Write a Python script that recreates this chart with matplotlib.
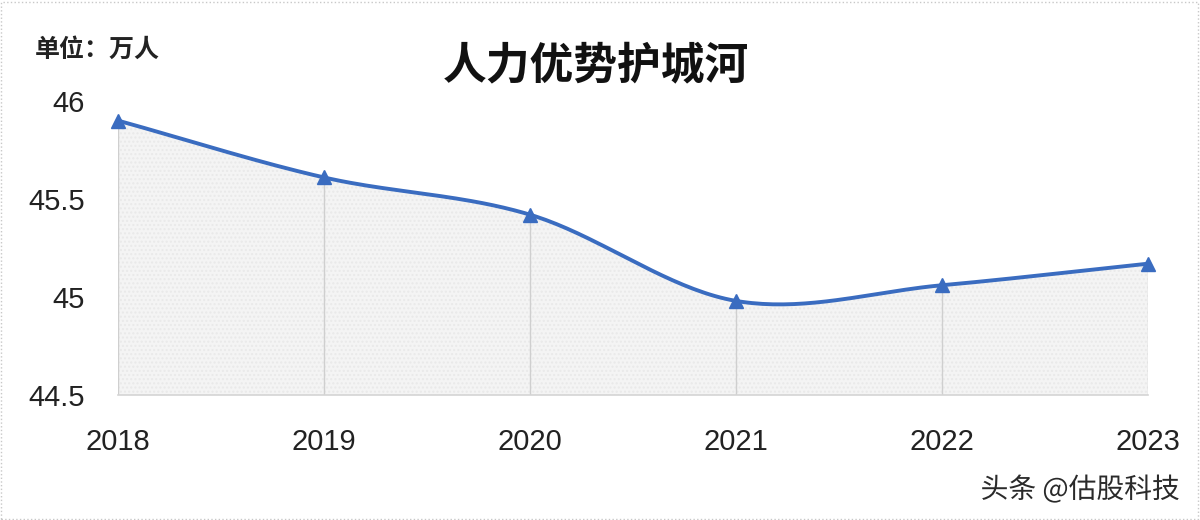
import numpy as np
import matplotlib.pyplot as plt
import matplotlib.patheffects as pe

plt.rcParams['font.family'] = ['Noto Sans CJK SC', 'DejaVu Sans']

# Chart data
years = [2018, 2019, 2020, 2021, 2022, 2023]
staff = [45.90, 45.61, 45.42, 44.98, 45.06, 45.17]   # 万人
y_ticks = [44.5, 45, 45.5, 46]
y_labels = ['44.5', '45', '45.5', '46']

title = '人力优势护城河'
unit = '单位：万人'
mark = '头条 @估股科技'


# Smooth curve through the points, like the "smoothed line" option in Excel
def smooth(xs, ys, steps=40):
    xs = np.asarray(xs, float)
    ys = np.asarray(ys, float)
    px = np.concatenate([[2 * xs[0] - xs[1]], xs, [2 * xs[-1] - xs[-2]]])
    py = np.concatenate([[2 * ys[0] - ys[1]], ys, [2 * ys[-1] - ys[-2]]])
    out_x, out_y = [], []
    t = np.linspace(0, 1, steps)
    for i in range(1, len(px) - 2):
        p0, p1, p2, p3 = py[i - 1], py[i], py[i + 1], py[i + 2]
        q0, q1, q2, q3 = px[i - 1], px[i], px[i + 1], px[i + 2]
        # cardinal spline -> bezier control points
        c1y = p1 + (p2 - p0) / 6
        c2y = p2 - (p3 - p1) / 6
        c1x = q1 + (q2 - q0) / 6
        c2x = q2 - (q3 - q1) / 6
        bx = (1 - t) ** 3 * q1 + 3 * (1 - t) ** 2 * t * c1x + 3 * (1 - t) * t ** 2 * c2x + t ** 3 * q2
        by = (1 - t) ** 3 * p1 + 3 * (1 - t) ** 2 * t * c1y + 3 * (1 - t) * t ** 2 * c2y + t ** 3 * p2
        out_x.extend(bx[:-1] if i < len(px) - 3 else bx)
        out_y.extend(by[:-1] if i < len(px) - 3 else by)
    return np.array(out_x), np.array(out_y)


fig = plt.figure(figsize=(12, 5.2), dpi=100)
ax = fig.add_axes([0.0983, 0.2404, 0.8584, 0.5654])

sx, sy = smooth(years, staff)
ax.fill_between(sx, sy, y_ticks[0], facecolor='#f4f4f4', edgecolor='#e9e9e9',
                hatch='....', linewidth=0, zorder=1)
ax.vlines(years, y_ticks[0], staff, color='#cfcfcf', linewidth=1, zorder=2)
ax.plot(sx, sy, color='#3a6cc0', linewidth=2.8, zorder=3, solid_capstyle='round')
ax.plot(years, staff, linestyle='none', marker='^', markersize=10,
        color='#3a6cc0', zorder=4, clip_on=False)

ax.set_xlim(years[0], years[-1])
ax.set_ylim(y_ticks[0], y_ticks[-1])
ax.set_xticks(years)
ax.set_xticklabels([str(y) for y in years], family=['Liberation Sans'], fontsize=21,
                   color='#222222')
ax.set_yticks(y_ticks)
ax.set_yticklabels(y_labels, family=['Liberation Sans'], fontsize=21, color='#222222')
ax.tick_params(axis='both', length=0)
ax.tick_params(axis='x', pad=24)
ax.tick_params(axis='y', pad=24)
for side in ['top', 'right', 'left']:
    ax.spines[side].set_visible(False)
ax.spines['bottom'].set_color('#d4d4d4')
ax.spines['bottom'].set_linewidth(1.2)

fig.text(0.497, 0.875, title, ha='center', va='center', fontsize=31.5,
         fontweight='bold', color='#111111')
fig.text(0.029, 0.905, unit, ha='left', va='center', fontsize=18,
         fontweight='bold', color='#222222')
fig.text(0.983, 0.058, mark, ha='right', va='center', fontsize=20,
         color='#2a2a2a',
         path_effects=[pe.withStroke(linewidth=3, foreground='white')])

# thin grey frame around the picture
fig.patches.append(plt.Rectangle((0.001, 0.002), 0.997, 0.995, transform=fig.transFigure,
                                 fill=False, edgecolor='#c8c8c8', linewidth=1,
                                 linestyle=':'))

fig.savefig('out.png', dpi=100)
